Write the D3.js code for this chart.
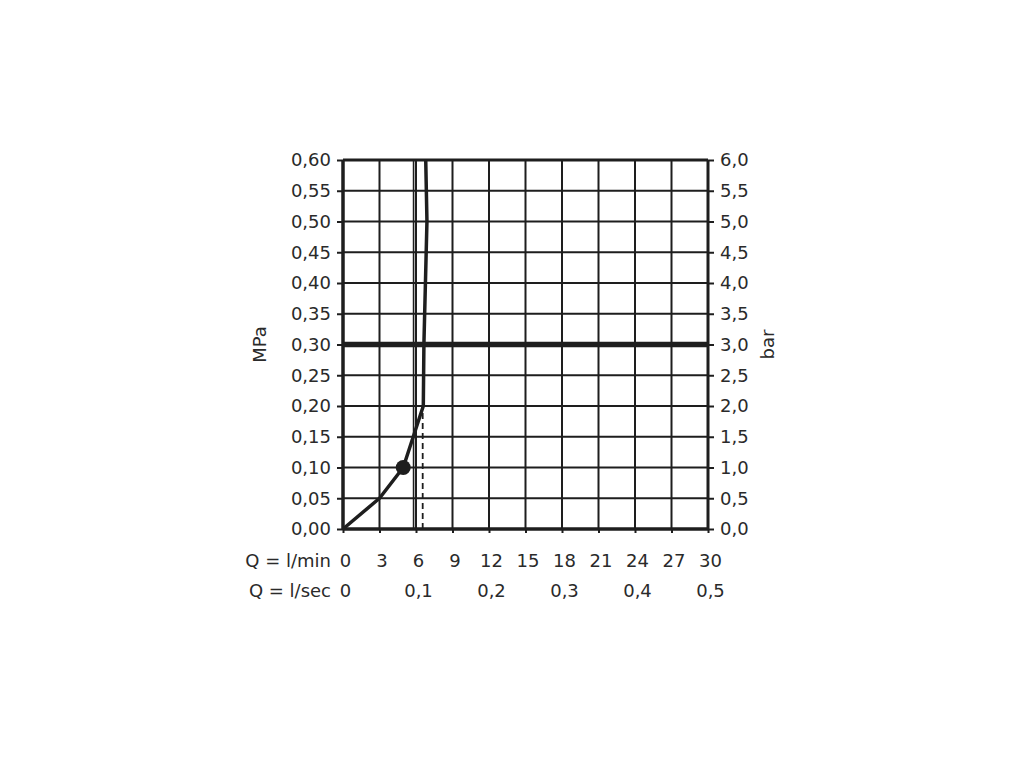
<!DOCTYPE html>
<html><head><meta charset="utf-8">
<script src="https://cdn.jsdelivr.net/npm/d3@7"></script>
<style>body{margin:0;background:#fff}svg{display:block}text{font-family:"DejaVu Sans",sans-serif;fill:#2a2a2a}</style>
</head><body>
<script>
// ---- data ----
const flowTicksLmin = [0,3,6,9,12,15,18,21,24,27,30];
const flowTicksLsec = [0,0.1,0.2,0.3,0.4,0.5];
const flowTickLabelsLsec = ["0","0,1","0,2","0,3","0,4","0,5"];
const pressureTicksMPa = [0,0.05,0.10,0.15,0.20,0.25,0.30,0.35,0.40,0.45,0.50,0.55,0.60];
const pressureTicksBar = [0,0.5,1,1.5,2,2.5,3,3.5,4,4.5,5,5.5,6];
const curveFlow = [0, 3.0, 4.95, 6.6, 6.65, 6.9, 6.8];
const curvePressure = [0, 0.05, 0.10, 0.20, 0.30, 0.50, 0.60];
const pointFlow = [4.95];
const pointPressure = [0.10];
const dashedFlow = [6.55, 6.55];
const dashedPressure = [0, 0.19];
const refLineFlow = [5.8, 5.8];
const refLinePressure = [0, 0.60];
const operatingPressure = [0.30];

// ---- layout ----
const W = 1024, H = 768;
const m = {left:343, right:1024-708, top:160, bottom:768-529};
const iw = W - m.left - m.right, ih = H - m.top - m.bottom;
const ink = "#1e1e1e", txt = "#2a2a2a", FS = 18;
const svg = d3.select("body").append("svg").attr("width",W).attr("height",H);
const g = svg.append("g").attr("transform",`translate(${m.left},${m.top})`);

const x = d3.scaleLinear().domain([0,30]).range([0,iw]);
const xs = d3.scaleLinear().domain([0,0.5]).range([0,iw]);
const y = d3.scaleLinear().domain([0,0.6]).range([ih,0]);
const yb = d3.scaleLinear().domain([0,6]).range([ih,0]);
const fmt = d3.format(".2f"), fmt1 = d3.format(".1f");
const comma = s => s.replace(".",",");

// grid
g.append("g").selectAll("line").data(flowTicksLmin).join("line")
  .attr("x1",d=>x(d)).attr("x2",d=>x(d)).attr("y1",0).attr("y2",ih)
  .attr("stroke",ink).attr("stroke-width",2);
g.append("g").selectAll("line").data(pressureTicksMPa).join("line")
  .attr("y1",d=>y(d)).attr("y2",d=>y(d)).attr("x1",0).attr("x2",iw)
  .attr("stroke",ink).attr("stroke-width",2);

// axes
const yl = g.append("g").call(d3.axisLeft(y).tickValues(pressureTicksMPa).tickFormat(d=>comma(fmt(d))).tickSize(6).tickPadding(6));
const yr = g.append("g").attr("transform",`translate(${iw},0)`).call(d3.axisRight(yb).tickValues(pressureTicksBar).tickFormat(d=>comma(fmt1(d))).tickSize(6).tickPadding(6));
const xb = g.append("g").attr("transform",`translate(0,${ih})`).call(d3.axisBottom(x).tickValues(flowTicksLmin).tickFormat(d=>d).tickSize(4).tickPadding(21));
const xb2 = g.append("g").attr("transform",`translate(0,${ih+30})`).call(d3.axisBottom(xs).tickValues(flowTicksLsec).tickFormat((d,i)=>flowTickLabelsLsec[i]).tickSize(0).tickPadding(25));
[yl,yr,xb,xb2].forEach(a=>{
  a.selectAll("text").attr("font-size",FS).attr("fill",txt).style("font-family","DejaVu Sans");
  a.selectAll("line").attr("stroke",ink).attr("stroke-width",2);
  a.select(".domain").remove();
});
xb.selectAll("text").attr("dx",2);
xb2.selectAll("text").attr("dx",2);
// frame
g.append("line").attr("x1",0).attr("x2",0).attr("y1",0).attr("y2",ih).attr("stroke",ink).attr("stroke-width",3.5);
g.append("line").attr("x1",0).attr("x2",iw).attr("y1",ih).attr("y2",ih).attr("stroke",ink).attr("stroke-width",3.5);
g.append("line").attr("x1",iw).attr("x2",iw).attr("y1",0).attr("y2",ih).attr("stroke",ink).attr("stroke-width",3);
g.append("line").attr("x1",0).attr("x2",iw).attr("y1",0).attr("y2",0).attr("stroke",ink).attr("stroke-width",3);

// row titles
g.append("text").attr("x",-12).attr("y",ih+38).attr("text-anchor","end").attr("font-size",FS).text("Q = l/min");
g.append("text").attr("x",-12).attr("y",ih+68).attr("text-anchor","end").attr("font-size",FS).text("Q = l/sec");
// axis titles
g.append("text").attr("transform",`translate(${-77},${y(0.30)}) rotate(-90)`).attr("text-anchor","middle").attr("font-size",FS).text("MPa");
g.append("text").attr("transform",`translate(${iw+66},${y(0.30)}) rotate(-90)`).attr("text-anchor","middle").attr("font-size",FS).text("bar");

// reference thin line
g.append("line").attr("x1",x(refLineFlow[0])).attr("x2",x(refLineFlow[1])).attr("y1",y(refLinePressure[0])).attr("y2",y(refLinePressure[1])).attr("stroke",ink).attr("stroke-width",1.6);
// dashed
g.append("line").attr("x1",x(dashedFlow[0])).attr("x2",x(dashedFlow[1])).attr("y1",y(dashedPressure[0])).attr("y2",y(dashedPressure[1])).attr("stroke",ink).attr("stroke-width",1.8).attr("stroke-dasharray","6,4");
// operating pressure
g.selectAll(".op").data(operatingPressure).join("line").attr("x1",0).attr("x2",iw).attr("y1",d=>y(d)).attr("y2",d=>y(d)).attr("stroke",ink).attr("stroke-width",5.5);
// curve
const pts = curveFlow.map((f,i)=>[f,curvePressure[i]]);
g.append("path").attr("d",d3.line().x(d=>x(d[0])).y(d=>y(d[1]))(pts)).attr("fill","none").attr("stroke",ink).attr("stroke-width",3.5).attr("stroke-linejoin","round");
g.selectAll(".pt").data(pointFlow.map((f,i)=>[f,pointPressure[i]])).join("circle").attr("cx",d=>x(d[0])).attr("cy",d=>y(d[1])).attr("r",7.5).attr("fill",ink);
</script>
</body></html>
